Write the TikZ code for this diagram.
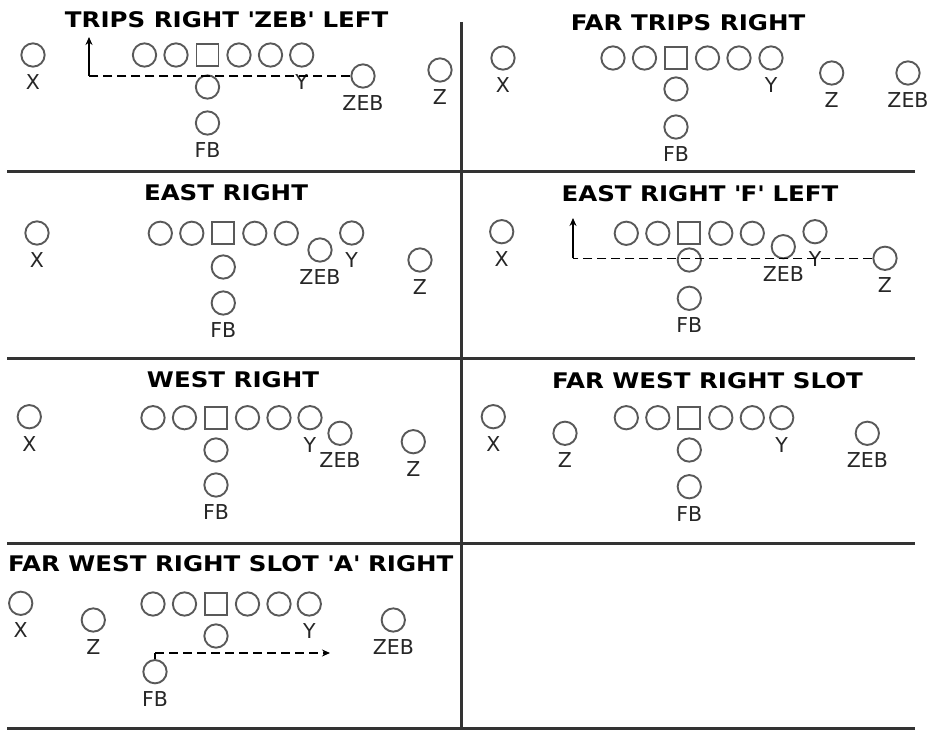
\documentclass[tikz,border=0pt]{standalone}
\usepackage{fontspec}
\usepackage{tikz}
\usetikzlibrary{positioning,arrows.meta}
\newfontfamily\labelfont{DejaVu Sans}
\newfontfamily\titlefont{DejaVu Sans}[FakeStretch=1.14]

\begin{document}
\begin{tikzpicture}[x=1pt, y=-1pt,
    player/.style={circle, draw=black!65, line width=1.9pt, minimum size=23.3pt, inner sep=0pt},
    ctr/.style={rectangle, draw=black!65, line width=1.9pt, minimum size=22pt, inner sep=0pt},
    lbl/.style={font=\labelfont\fontsize{20.5}{24}\selectfont, text=black!85, inner sep=0pt, outer sep=0pt, text height=14.9pt, text depth=0pt},
    ttl/.style={font=\titlefont\bfseries\fontsize{21.5}{26}\selectfont, inner sep=0pt, text height=15.7pt, text depth=0pt},
    grid/.style={draw=black!80, line width=3pt},
    stem/.style={draw=black, line width=1.2pt},
    motion/.style={stem, dash pattern=on 9pt off 5pt},
    route/.style={stem, -{Stealth[length=8pt, width=7pt]}}]
    \useasboundingbox (0,0) rectangle (936,730);

    \draw[grid] (461.5,22) -- (461.5,729);
    \foreach \gy in {172,358,543,728}
        \draw[grid] (7,\gy) -- (915,\gy);

    \node[ttl] (a-title) at (226.7,20) {TRIPS RIGHT \textquotesingle ZEB\textquotesingle{} LEFT};
    \node[ttl] (b-title) at (688,22.5) {FAR TRIPS RIGHT};
    \node[ttl] (c-title) at (226,193) {EAST RIGHT};
    \node[ttl] (d-title) at (700,193.5) {EAST RIGHT \textquotesingle F\textquotesingle{} LEFT};
    \node[ttl] (e-title) at (233,380) {WEST RIGHT};
    \node[ttl] (f-title) at (707.5,380.5) {FAR WEST RIGHT SLOT};
    \node[ttl] (g-title) at (230.8,563.3) {FAR WEST RIGHT SLOT \textquotesingle A\textquotesingle{} RIGHT};

    \foreach \p/\cx/\cy/\qy in {a/207.5/55/87, b/676/58/89, c/223.3/233.3/267, d/689.3/233.3/260,
                                e/216/417.7/450, f/689.3/417.7/450, g/216/604/636} {
        \node[ctr] (\p-c) at (\cx,\cy) {};
        \foreach \i in {-2,-1,1,2}
            \node[player] (\p-ol\i) at (\cx+\i*31.5,\cy) {};
        \node[player] (\p-qb) at (\cx,\qy) {};
    }

    \foreach \n/\px/\py/\t in {
        a-x/33/55/X, a-y/301.7/55/Y, a-zeb/363/76/ZEB, a-z/440/70/Z, a-fb/207.5/123/FB,
        b-x/503/58/X, b-y/771/58/Y, b-z/831.7/73/Z, b-zeb/908/73/ZEB, b-fb/676/127/FB,
        c-x/37/233/X, c-zeb/320/250/ZEB, c-y/351.7/233/Y, c-z/420/260/Z, c-fb/223.3/303/FB,
        d-x/501.7/231.7/X, d-zeb/783.3/246.7/ZEB, d-y/815/231.7/Y, d-z/885/258.3/Z, d-fb/689.3/298.3/FB,
        e-x/29.3/416.7/X, e-y/310/417.7/Y, e-zeb/340/433.3/ZEB, e-z/413.3/441.7/Z, e-fb/216/485/FB,
        f-x/493.3/416.7/X, f-z/565/433.3/Z, f-y/781.7/417.7/Y, f-zeb/867.3/433.3/ZEB, f-fb/689.3/486.7/FB,
        g-x/20.7/603.3/X, g-z/93.3/620/Z, g-y/309.3/604/Y, g-zeb/393.3/620/ZEB, g-fb/155/671.7/FB} {
        \node[player] (\n) at (\px,\py) {};
        \node[lbl, below=7pt of \n] (\n-l) {\t};
    }

    \coordinate (a-turn) at (89,76);
    \coordinate (a-tip) at (89,37);
    \draw[motion] (a-zeb) -- (a-turn);
    \draw[route] (a-turn) -- (a-tip);

    \coordinate (d-turn) at (573,258.3);
    \coordinate (d-tip) at (573,218);
    \draw[motion] (d-z) -- (d-turn);
    \draw[route] (d-turn) -- (d-tip);

    \coordinate (g-turn) at (155,653);
    \coordinate (g-tip) at (330,653);
    \draw[stem] (g-fb) -- (g-turn);
    \draw[route, motion] (g-turn) -- (g-tip);
\end{tikzpicture}
\end{document}
